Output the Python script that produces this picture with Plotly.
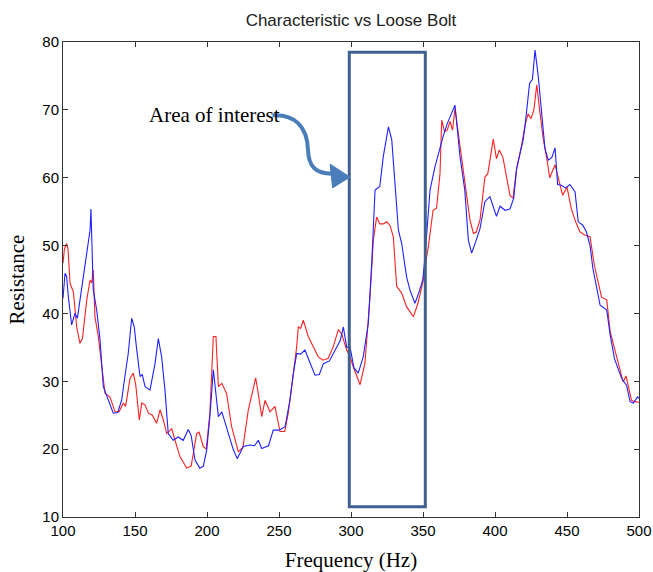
import plotly.graph_objects as go

# Blue series (frequency Hz, resistance)
freq_blue = [100, 101.4, 102.5, 103.7, 106, 108.3, 110, 111.8, 114.1, 116.5, 118.8, 119.4, 120.2, 121,
             123.4, 125.7, 128, 131.5, 134.9, 138, 140.7, 143, 145.3, 147.7, 149.5, 151, 153.5, 155,
             157, 160.4, 163.9, 166.2, 168.5, 170.8, 173.1, 176.6, 180, 183.5, 187, 189, 191.7, 195,
             197.5, 199.8, 202, 204.4, 206, 207.9, 210.3, 212.5, 214.8, 218.3, 221, 225.2, 230, 233,
             235.6, 238, 242.7, 246, 250, 254.2, 257.6, 260, 262.3, 265, 268, 271.5, 275, 278, 280.8,
             285, 290, 292.5, 294.7, 297, 299.3, 302, 305, 308.5, 312, 314.4, 316.7, 320, 322.4, 326,
             328.3, 330.6, 332.9, 335.2, 338.6, 341, 344.4, 347, 349.8, 351.4, 354.9, 358.3, 361.8,
             364, 366.7, 369, 372.2, 375.7, 379, 381.5, 383.8, 386.5, 389.6, 393, 396.5, 401, 403.5,
             407, 410.4, 413, 415, 417.4, 419.5, 421, 424, 426, 427.8, 430, 432, 434.7, 437, 439.5,
             441.7, 443.5, 446, 449, 452, 455.6, 457.8, 461, 463.5, 466, 468, 473, 477.6, 480, 483,
             488, 491.4, 493.8, 496, 499, 500]
res_blue = [42.2, 45.9, 45.5, 42.5, 38.3, 40, 39.3, 42, 45.9, 48.8, 52.3, 55.4, 50, 43.5,
            40.5, 36.1, 29.2, 27.2, 25.3, 25.4, 27.2, 30.7, 34.1, 39.3, 38, 35, 30.7, 31,
            29.2, 28.7, 32.6, 36.3, 33.6, 28.7, 22.3, 21.3, 21.8, 21.3, 22.9, 22, 18.4, 17.2,
            17.5, 19.9, 24.8, 31.7, 28, 24.8, 25.5, 24, 22.3, 19.9, 18.6, 20.4, 20.6, 20.5,
            21.3, 20.1, 20.5, 22.8, 22.8, 23.3, 27.2, 31.2, 34.1, 34, 34.6, 32.6, 30.9, 31, 32.6,
            33, 35.1, 36, 38, 35, 35.1, 32, 31.2, 33.6, 38.5, 47.4, 58.2, 58.7, 63.1, 67.5,
            65.6, 58.2, 52.3, 50.3, 45.4, 43.4, 41.5, 43, 44.9, 48.4, 58.2, 61.6, 64.5,
            66.1, 67.9, 69.1, 70.7, 63.1, 58.2, 50.8, 48.9, 50.5, 52.5, 56.5, 57.2, 54.3, 55.8,
            55.2, 55.4, 57, 61.3, 63.6, 65.5, 67.9, 73.9, 74.5, 78.8, 75, 70, 64.3, 62.6, 63,
            64.4, 59, 58.9, 58.5, 59, 57.9, 53.5, 53, 52, 50, 46.6, 41.2, 40.5, 36.8, 33.3,
            30.4, 29.4, 27, 26.8, 27.7, 27.5]

# Red series (frequency Hz, resistance)
freq_red = [100, 101, 102.5, 103.5, 104.9, 107.2, 109.5, 111.8, 113.5, 116.5, 118.8, 120, 121, 122.2,
            124.5, 126.9, 129.2, 132.6, 136.1, 139, 141.9, 143.5, 146.5, 148.8, 150.5, 153, 154.7,
            157, 159.3, 162, 165, 167.4, 169.7, 172, 175.5, 177.8, 181.2, 185.9, 189, 192.8, 194.5,
            197.4, 199.5, 202, 204.4, 206.2, 207.9, 210.3, 213.6, 217.1, 221.8, 225, 228.7, 232.2,
            233.8, 235.6, 238, 240.3, 243.7, 247.2, 250.7, 254, 256.4, 260, 262.3, 263.4, 265,
            266.9, 270.3, 273.8, 277.3, 280.5, 284.2, 287.7, 291.2, 293.5, 297, 299.5, 301.6,
            306.3, 309.7, 313.2, 315.5, 317.8, 320, 322.5, 324.8, 327, 329.4, 331.7, 335.2, 338.6,
            343.3, 346.5, 350.2, 351.4, 353.7, 357, 359.4, 361.8, 363, 365, 366.8, 368.8, 370.5,
            372.2, 375.7, 378, 380.3, 382.6, 385, 387, 389.6, 393, 395, 398.8, 401, 403, 405.5,
            408, 410.4, 412.5, 415, 418.5, 421, 423, 425, 427, 429, 431, 433.5, 436, 438, 441.7,
            443.5, 447, 450, 453, 456, 459, 462, 466, 469, 474, 477.6, 480, 484.5, 487, 489, 491,
            494.8, 497, 500]
res_red = [47.4, 49.5, 50.3, 49.5, 44.4, 43.2, 38, 35.6, 36.3, 42, 44.9, 44.5, 46.4, 39.5,
           36.6, 32.6, 28.2, 27.7, 25.5, 25.5, 26.8, 26.3, 30.4, 31.2, 29.5, 24.3, 26.8,
           26.5, 25.3, 25, 23.8, 25.8, 24.3, 22.3, 23, 21.3, 18.9, 17.2, 17.5, 22.3, 22.5,
           20.4, 20, 25.3, 36.6, 36.6, 29.2, 29.7, 28.2, 23.3, 19.6, 20.3, 25.8, 29,
           30.5, 28.2, 24.8, 27.2, 25.5, 26.3, 22.6, 22.6, 25.3, 31.2, 35.1, 38, 37.8,
           39, 36.6, 35.1, 33.6, 33.1, 33.4, 35.1, 37.6, 37, 34.6, 33.5, 32.1,
           29.5, 32.7, 42.5, 50.8, 54.2, 53.2, 53.2, 53.5, 53, 51.3, 44, 43, 41,
           39.5, 41.5, 44.9, 46.9, 49.8, 55.2, 55.5, 60.6, 68.5, 66.8, 67, 68.3, 67,
           70.2, 64.6, 61.1, 56.7, 53.8, 51.8, 52, 53.8, 60.1, 60.6, 65.7, 62.8, 64.1, 63,
           59.9, 57.4, 57, 61.3, 64.8, 67.9, 69.4, 68.7, 70, 73.7, 70, 65.7, 62.8, 60, 61.9,
           60.4, 57.4, 58.6, 55.4, 53.5, 52, 51.6, 51.3, 47.1, 42.4, 42, 37.3, 33.6, 31.5, 29.9, 30.8,
           27.2, 27, 26.9]

x_ticks = [100, 150, 200, 250, 300, 350, 400, 450, 500]
y_ticks = [10, 20, 30, 40, 50, 60, 70, 80]

title_text = "Characteristic vs Loose Bolt"
x_title = "Frequency (Hz)"
y_title = "Resistance"
note_text = "Area of interest"

SERIF = "Liberation Serif, Times New Roman, serif"
SANS = "Liberation Sans, Arial, sans-serif"

fig = go.Figure()
fig.add_trace(go.Scatter(x=freq_red, y=res_red, mode="lines",
                         line=dict(color="#ff2020", width=1.1), showlegend=False))
fig.add_trace(go.Scatter(x=freq_blue, y=res_blue, mode="lines",
                         line=dict(color="#2020ff", width=1.1), showlegend=False))

box_color = "rgb(64,96,142)"
arrow_color = "rgb(74,126,187)"

# Highlight box
fig.add_shape(type="rect", xref="x", yref="y", x0=298.8, x1=351.6, y0=11.5, y1=78.5,
              line=dict(color=box_color, width=3), fillcolor="rgba(0,0,0,0)", layer="above")

# Curved arrow (data coordinates)
fig.add_shape(type="path", xref="x", yref="y",
              path="M 245.5,69.2 C 261,69.4 269.5,67.5 270.1,64.2 C 270.5,61.5 276,60.6 286.5,60.6",
              line=dict(color=arrow_color, width=4), layer="above")
fig.add_shape(type="path", xref="x", yref="y",
              path="M 299.3,60.1 L 285.5,62.0 L 287.2,58.5 Z",
              line=dict(color=arrow_color, width=1), fillcolor=arrow_color, layer="above")

fig.add_annotation(x=158.5, y=69.3, xref="x", yref="y", text=note_text, showarrow=False,
                   xanchor="left", yanchor="middle",
                   font=dict(family=SERIF, size=21, color="black"))

axis_common = dict(showline=True, linecolor="#333333", linewidth=1, mirror="ticks",
                   ticks="inside", ticklen=5, tickcolor="#333333", showgrid=False, zeroline=False,
                   automargin=False,
                   tickfont=dict(family=SANS, size=15, color="black"))

fig.update_layout(
    width=653, height=572,
    margin=dict(l=63, r=14, t=42, b=55),
    paper_bgcolor="white", plot_bgcolor="white",
    title=dict(text=title_text, x=0.5, xref="paper", xanchor="center",
               y=0.965, yref="container", yanchor="middle",
               font=dict(family=SANS, size=17, color="#222222")),
    xaxis=dict(range=[100, 500], tickvals=x_ticks, ticktext=[str(t) for t in x_ticks],
               title=dict(text=x_title, standoff=14,
                          font=dict(family=SERIF, size=21, color="black")),
               **axis_common),
    yaxis=dict(range=[10, 80], tickvals=y_ticks, ticktext=[str(t) for t in y_ticks],
               title=dict(text=y_title, standoff=11,
                          font=dict(family=SERIF, size=21, color="black")),
               **axis_common),
)

# Remove the default page margin so the 653x572 figure fills the window exactly.
fig.write_html("out.html", config={"displayModeBar": False},
               post_script="document.body.style.margin='0';document.body.style.overflow='hidden';")
